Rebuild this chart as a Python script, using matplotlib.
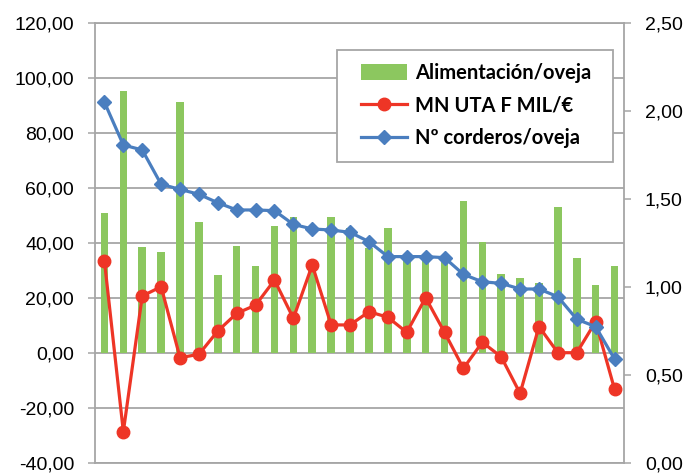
import numpy as np
import matplotlib.pyplot as plt
from matplotlib.ticker import FuncFormatter, MultipleLocator
from matplotlib.patches import Rectangle

# values (28 farms)
alimentacion = [50.7, 95.2, 38.3, 36.5, 91.0, 47.4, 28.1, 38.8, 31.6, 46.0,
                49.5, 30.0, 49.5, 45.2, 38.0, 45.5, 35.5, 35.5, 35.0, 55.2,
                40.1, 28.6, 27.3, 25.5, 52.9, 34.3, 24.5, 31.5]
mn_uta = [33.3, -28.7, 20.6, 24.0, -1.8, -0.6, 7.9, 14.3, 17.3, 26.4,
          12.5, 31.9, 10.1, 10.1, 14.9, 12.9, 7.4, 20.0, 7.4, -5.7,
          3.8, -1.5, -14.8, 9.5, 0.0, 0.0, 11.3, -13.3]
corderos = [2.048, 1.805, 1.777, 1.582, 1.553, 1.525, 1.477, 1.436, 1.436, 1.432,
            1.354, 1.328, 1.322, 1.309, 1.256, 1.171, 1.171, 1.171, 1.165, 1.070,
            1.028, 1.019, 0.987, 0.987, 0.943, 0.815, 0.773, 0.589]

labels = ["Alimentación/oveja", "MN UTA F MIL/€", "Nº corderos/oveja"]

green = "#8cc75f"
red = "#ee3526"
blue = "#4a7ebf"
grey = "#a6a6a6"

plt.rcParams['font.family'] = ['Liberation Sans', 'DejaVu Sans']

x = np.arange(1, len(alimentacion) + 1)

W, H = 695, 473
fig = plt.figure(figsize=(W/100, H/100), dpi=100)
ax = fig.add_axes([95/W, 1-462.7/H, 529/W, 440/H])
ax2 = ax.twinx()

b = ax.bar(x, alimentacion, width=0.4, color=green, zorder=2, label=labels[0])
l1, = ax.plot(x, mn_uta, color=red, lw=2.3, marker='o', ms=9, zorder=3, label=labels[1])
l2, = ax2.plot(x, corderos, color=blue, lw=2.3, marker='D', ms=7.5, zorder=3, label=labels[2])

ax.set_xlim(0.5, len(x) + 0.5)
ax.set_ylim(-40, 120)
ax.yaxis.set_major_locator(MultipleLocator(20))
ax2.set_ylim(0, 2.5)
ax2.yaxis.set_major_locator(MultipleLocator(0.5))

fmt = FuncFormatter(lambda v, p: f"{v:.2f}".replace(".", ","))
ax.yaxis.set_major_formatter(fmt)
ax2.yaxis.set_major_formatter(fmt)

ax.grid(axis='y', color=grey, lw=1.3, zorder=0)
ax.set_axisbelow(True)
ax.set_xticks([])

for a in (ax, ax2):
    for s in a.spines.values():
        s.set_visible(False)
for s in ('left', 'top', 'bottom'):
    ax.spines[s].set_visible(True)
    ax.spines[s].set_color(grey)
    ax.spines[s].set_linewidth(1.3)
ax2.spines['right'].set_visible(True)
ax2.spines['right'].set_color(grey)
ax2.spines['right'].set_linewidth(1.3)

ax.tick_params(axis='y', length=5, width=1.1, color=grey, pad=10, labelsize=14)
ax2.tick_params(axis='y', length=5, width=1.1, color=grey, pad=10, labelsize=14)

# legend box ~ x 337..613, y 50..162 px; frame drawn by hand
box = Rectangle((337/W, 1-162/H), 276/W, 112/H, transform=fig.transFigure,
                facecolor='white', edgecolor=grey, lw=1.3, zorder=4, clip_on=False)
ax2.add_patch(box)
leg = ax2.legend([b, l1, l2], labels, loc='upper left',
                 bbox_to_anchor=(361/W, 1-63/H), bbox_transform=fig.transFigure,
                 frameon=False, handlelength=2.3, handleheight=0.8, handletextpad=0.4,
                 borderpad=0, labelspacing=0.62, borderaxespad=0,
                 prop={'family': 'Lato', 'weight': 'bold', 'size': 14.5})
leg.set_zorder(5)

fig.savefig("out.png", dpi=100)
